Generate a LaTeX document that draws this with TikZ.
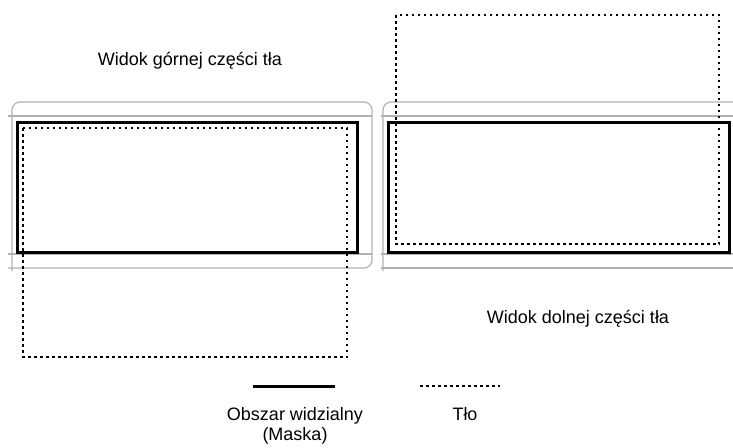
\documentclass[tikz,border=0pt]{standalone}
\usepackage{fontspec}
\setmainfont{Liberation Sans}
\begin{document}
\begin{tikzpicture}[x=1pt,y=-1pt,
  frame/.style={draw=black!30, line width=1.2pt},
  mask/.style={draw=black, line width=3pt},
  bgline/.style={draw=black, line width=2.8pt, dash pattern=on 2.5pt off 3.5pt},
  caption/.style={font=\fontsize{18}{21}\selectfont, inner sep=0pt, anchor=base}]
\useasboundingbox (0,0) rectangle (733,447);

% window frame, left view
\draw[frame, rounded corners=8pt] (12,271) -- (12,102) -- (372,102) -- (372,268) -- (8,268);
\draw[frame] (8,116) -- (372,116);
\draw[frame] (8,254) -- (372,254);

% window frame, right view (runs off the right edge)
\draw[frame, rounded corners=8pt] (383,271) -- (383,102) -- (733,102);
\draw[frame] (381,116) -- (733,116);
\draw[frame] (381,254) -- (733,254);
\draw[frame] (381,268) -- (733,268);

% visible area (mask)
\draw[mask] (17,122) rectangle (357,252);
\draw[mask] (388,122) rectangle (729,252);

% background
\draw[bgline] (23,128) rectangle (347,357);
\draw[bgline] (396,15) rectangle (719,244);

% titles
\node[caption] (top) at (190,65) {Widok górnej części tła};
\node[caption] (bottom) at (578,323) {Widok dolnej części tła};

% legend
\coordinate (ms) at (253,386);
\coordinate (me) at (335,386);
\coordinate (bs) at (420,386);
\coordinate (be) at (500,386);
\draw[mask] (ms) -- (me);
\draw[bgline] (bs) -- (be);
\node[caption] (maskl) at (295,420) {Obszar widzialny};
\node[caption] (maskm) at (295,440) {(Maska)};
\node[caption] (bgl) at (465,420) {Tło};
\end{tikzpicture}
\end{document}
